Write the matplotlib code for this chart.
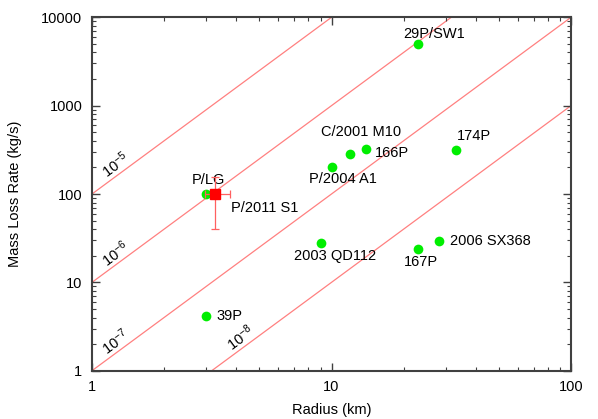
import numpy as np
import matplotlib
matplotlib.use("Agg")
import matplotlib.pyplot as plt
from matplotlib.ticker import LogLocator, NullFormatter, FixedLocator, FixedFormatter

plt.rcParams['font.family'] = ['Liberation Sans', 'DejaVu Sans']
plt.rcParams['mathtext.fontset'] = 'custom'
plt.rcParams['mathtext.rm'] = 'Liberation Sans'
plt.rcParams['mathtext.it'] = 'Liberation Sans'

# comets: radius (km), mass loss rate (kg/s)
names = ["P/LG", "29P/SW1", "C/2001 M10", "166P", "P/2004 A1", "174P",
         "2003 QD112", "167P", "2006 SX368", "39P"]
radius = [3.0, 23, 12, 14, 10, 33, 9, 23, 28, 3.0]
rate = [100, 5000, 280, 325, 200, 315, 28, 24, 29, 4.2]
# label offsets in pixels (dx, dy, ha)
label_off = [(2, 14, 'center'), (16, 10, 'center'), (11, 22, 'center'),
             (8, -4, 'left'), (11, -12, 'center'), (18, 14, 'center'),
             (15, -13, 'center'), (3, -13, 'center'), (11, 0, 'left'),
             (10, 0, 'left')]

# P/2011 S1 with error bars
s1_r, s1_rate = 3.27, 100
s1_xerr = [[0.3], [0.5]]
s1_yerr = [[60], [57]]

# constant lines: rate = C * r^2
coeffs = [100, 10, 1, 0.1]
coeff_labels = ["$10^{-5}$", "$10^{-6}$", "$10^{-7}$", "$10^{-8}$"]
coeff_label_x = [1.14, 1.14, 1.14, 3.8]

fig = plt.figure(figsize=(5.98, 4.19), dpi=100)
ax = fig.add_axes([92/598, 1-370.7/419, 479/598, 353.4/419])
ax.set_xscale('log')
ax.set_yscale('log')
ax.set_xlim(1, 100)
ax.set_ylim(1, 10000)

r = np.array([1, 100])
ang = np.degrees(np.arctan(2 * (353.4/4) / (479/2)))
for c, lab, lx in zip(coeffs, coeff_labels, coeff_label_x):
    ax.plot(r, c * r**2, color='#ff8080', lw=0.9, zorder=1)
    ax.annotate(lab, (lx, c * lx**2), xytext=(-2, 10), textcoords='offset pixels',
                rotation=ang, rotation_mode='anchor', fontsize=10.5,
                ha='left', va='center')

ax.plot(radius, rate, 'o', color='#00ee00', ms=7, mec='none', zorder=3)
for n, x, y, (dx, dy, ha) in zip(names, radius, rate, label_off):
    ax.annotate(n, (x, y), xytext=(dx, dy), textcoords='offset pixels',
                ha=ha, va='center', fontsize=10.5)

ax.errorbar([s1_r], [s1_rate], xerr=s1_xerr, yerr=s1_yerr, fmt='s',
            color='#ff0000', ecolor='#ff6060', ms=7, elinewidth=0.9,
            capsize=3, capthick=0.9, zorder=4)
ax.annotate("P/2011 S1", (s1_r, s1_rate), xytext=(16, -14),
            textcoords='offset pixels', ha='left', va='center', fontsize=10.5)

ax.xaxis.set_major_locator(FixedLocator([1, 10, 100]))
ax.xaxis.set_major_formatter(FixedFormatter(["1", "10", "100"]))
ax.yaxis.set_major_locator(FixedLocator([1, 10, 100, 1000, 10000]))
ax.yaxis.set_major_formatter(FixedFormatter(["1", "10", "100", "1000", "10000"]))
for a in (ax.xaxis, ax.yaxis):
    a.set_minor_locator(LogLocator(base=10, subs=np.arange(2, 10)))
    a.set_minor_formatter(NullFormatter())
ax.tick_params(which='both', direction='in', top=True, right=True,
               labelsize=10.5, color='#404040')
ax.tick_params(which='major', length=6, width=1)
ax.tick_params(which='minor', length=3, width=0.8)
ax.tick_params(axis='x', pad=7)
ax.tick_params(axis='y', pad=7)
for s in ax.spines.values():
    s.set_color('#404040')
    s.set_linewidth(1.5)

ax.set_xlabel("Radius (km)", fontsize=10.5, labelpad=6)
ax.set_ylabel("Mass Loss Rate (kg/s)", fontsize=10.5, labelpad=14)

fig.savefig("out.png", dpi=100)
